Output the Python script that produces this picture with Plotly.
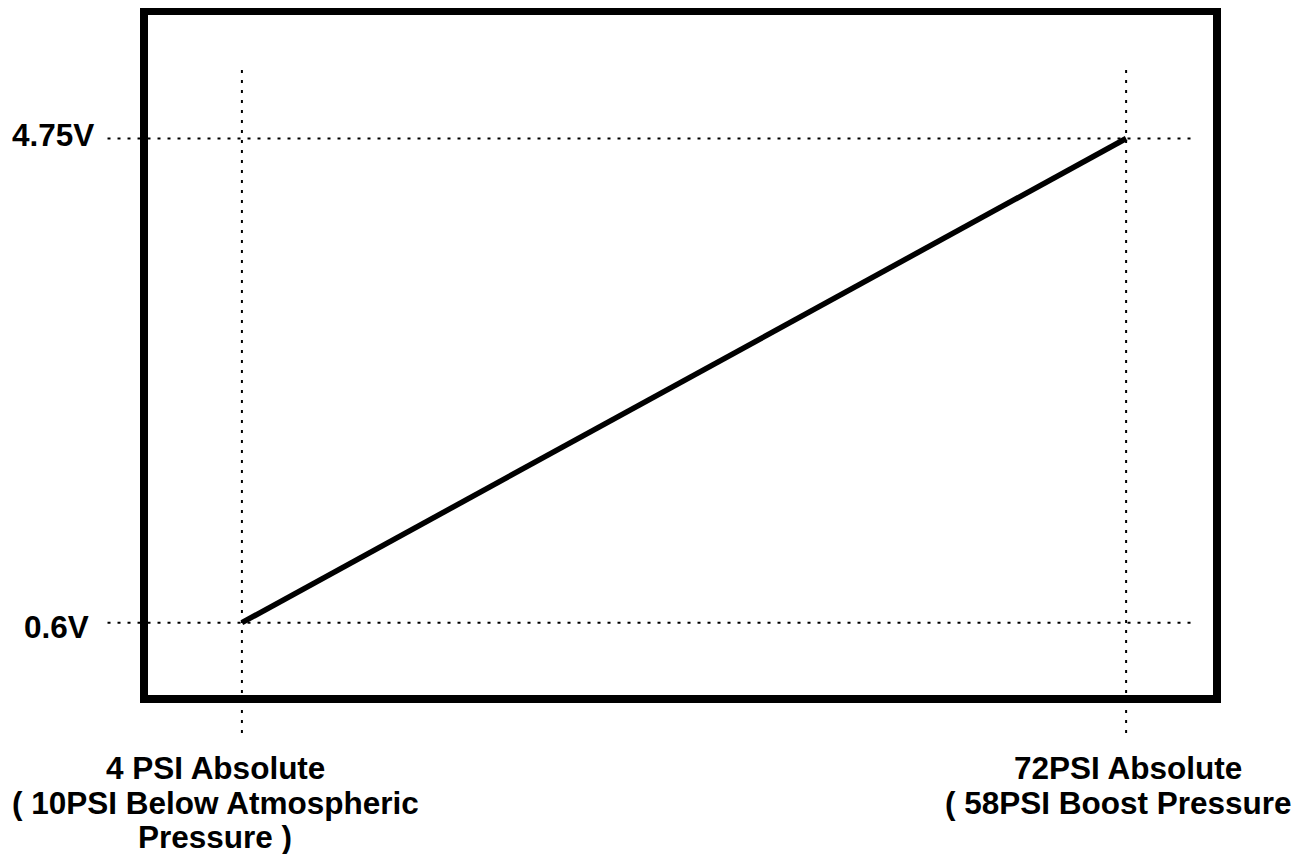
import plotly.graph_objects as go

# Data
pressure_psi = [4, 72]
voltage_v = [0.6, 4.75]
y_labels = ["0.6V", "4.75V"]
x_label_lines = [
    ["4 PSI Absolute", "( 10PSI Below Atmospheric", "Pressure )"],
    ["72PSI Absolute", "( 58PSI Boost Pressure )"],
]

FONT = dict(family="Liberation Sans, Arial, sans-serif", size=31.5, color="black")

fig = go.Figure()
fig.add_trace(go.Scatter(
    x=pressure_psi, y=voltage_v, mode="lines",
    line=dict(color="black", width=5.5), hoverinfo="skip", showlegend=False,
))

shapes = []
# frame
shapes.append(dict(type="rect", xref="paper", yref="paper", x0=0, x1=1, y0=0, y1=1,
                   line=dict(color="black", width=8), layer="above"))
# vertical dotted guides
for xv in pressure_psi:
    shapes.append(dict(type="line", xref="x", yref="paper", x0=xv, x1=xv,
                       y0=-0.0494, y1=0.9186,
                       line=dict(color="black", width=2, dash="3px,7px"), layer="below"))
# horizontal dotted guides
for yv in voltage_v:
    shapes.append(dict(type="line", xref="paper", yref="y", x0=-0.034, x1=0.981,
                       y0=yv, y1=yv,
                       line=dict(color="black", width=2, dash="3px,7px"), layer="below"))

annotations = []
# y labels
y_shift = [-4, 3.5]
x_shift_y = [-53, -48.5]
for yv, lab, ys, xs in zip(voltage_v, y_labels, y_shift, x_shift_y):
    annotations.append(dict(text="<b>%s</b>" % lab, xref="paper", yref="y", x=0, y=yv,
                            xanchor="right", yanchor="middle", xshift=xs, yshift=ys,
                            showarrow=False, font=FONT))
# x labels (one annotation per line for tighter line spacing)
line_shifts = [-69, -104, -138]
label_xshift = [-26.5, 1.5]
for xv, lines, xs in zip(pressure_psi, x_label_lines, label_xshift):
    for i, t in enumerate(lines):
        annotations.append(dict(text="<b>%s</b>" % t, xref="x", yref="paper", x=xv, y=0,
                                xanchor="center", yanchor="middle", xshift=xs,
                                yshift=line_shifts[i], showarrow=False, font=FONT))

fig.update_layout(
    width=1299, height=846,
    margin=dict(l=135.5, r=89.5, t=3, b=155, pad=0),
    paper_bgcolor="white", plot_bgcolor="white",
    xaxis=dict(visible=False, range=[-3.53, 78.99], fixedrange=True),
    yaxis=dict(visible=False, range=[-0.054, 5.8425], fixedrange=True),
    shapes=shapes, annotations=annotations, showlegend=False,
)

fig.write_html("out.html")
